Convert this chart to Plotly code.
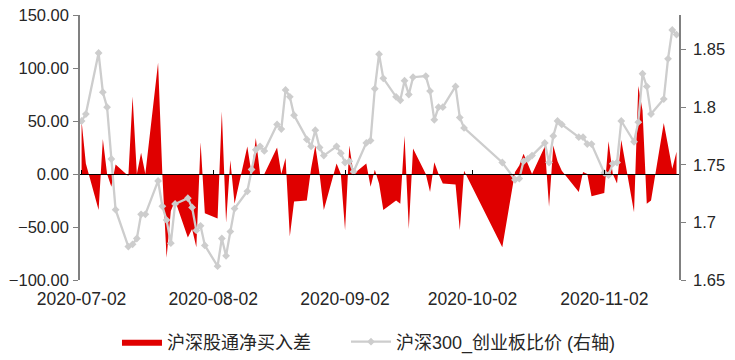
import plotly.graph_objects as go

dates_jul = ["2020-07-%02d" % d for d in [2, 3, 6, 7, 8, 9, 10, 13, 14, 15, 16, 17, 20, 21, 22, 23, 24, 27, 28, 29, 30, 31]]
dates_aug = ["2020-08-%02d" % d for d in [3, 4, 5, 6, 7, 10, 11, 12, 13, 14, 17, 18, 19, 20, 21, 24, 25, 26, 27, 28, 31]]
dates_sep = ["2020-09-%02d" % d for d in [1, 2, 3, 4, 7, 8, 9, 10, 11, 14, 15, 16, 17, 18, 21, 22, 23, 24, 25, 28, 29, 30]]
dates_oct = ["2020-10-%02d" % d for d in [9, 12, 13, 14, 15, 16, 19, 20, 21, 22, 23, 27, 28, 29, 30]]
dates_nov = ["2020-11-%02d" % d for d in [2, 3, 4, 5, 6, 9, 10, 11, 12, 13, 16, 17, 18, 19]]
dates = dates_jul + dates_aug + dates_sep + dates_oct + dates_nov

net_buy_diff = [
    50, 10, -34, 33, 0, -12, 9, -2, 73, 0, 20, 0, 105, 0, -79, -35, -25, -60, -52, -69, 30, -37,
    -42, 59, -46, 13, -28, 26, 0, 34, 0, 0, 25, 0, 15, -59, -26, -25, 5, 27, 0, -34, 10,
    0, -53, 27, 0, 10, -12, 4, -9, -34, -25, -28, 36, -52, 24, 0, -17, 11, 0, -9, -10, -53, 3,
    -69, 2, 8, 19, 10, 0, 26, -31, 27, 12, 3, -17, 2, 0, -21,
    -18, 31, 0, -9, 32, -36, 83, 60, -28, -25, 48, 27, 5, 21,
]

ratio = [
    1.788, 1.794, 1.847, 1.813, 1.800, 1.755, 1.711, 1.679, 1.681, 1.686, 1.707, 1.707, 1.736, 1.714, 1.702, 1.682, 1.716, 1.721, 1.713, 1.693, 1.697, 1.680,
    1.662, 1.686, 1.671, 1.692, 1.712, 1.727, 1.746, 1.763, 1.766, 1.762, 1.785, 1.781, 1.815, 1.809, 1.793, 1.772, 1.766, 1.780, 1.765, 1.758, 1.766,
    1.760, 1.752, 1.753, 1.744, 1.769, 1.771, 1.816, 1.846, 1.825, 1.809, 1.806, 1.823, 1.811, 1.826, 1.827, 1.814, 1.789, 1.800, 1.800, 1.818, 1.791, 1.782,
    1.752, 1.737, 1.738, 1.753, 1.755, 1.758, 1.769, 1.752, 1.775, 1.788, 1.785, 1.774, 1.774, 1.768, 1.768,
    1.743, 1.741, 1.751, 1.752, 1.788, 1.770, 1.787, 1.829, 1.818, 1.794, 1.807, 1.842, 1.867, 1.863,
]

tick_dates = ["2020-07-02", "2020-08-02", "2020-09-02", "2020-10-02", "2020-11-02"]
x_range = ["2020-07-01 15:00", "2020-11-19 14:00"]

FONT = "Liberation Sans, Arial, Noto Sans CJK SC, sans-serif"
RED = "#E00000"
GREY = "#CDCDCD"
AXIS = "#808080"
NBSP = "\u00a0"

fig = go.Figure()
fig.add_trace(go.Scatter(
    x=dates, y=net_buy_diff, name="沪深股通净买入差" + NBSP * 6,
    mode="lines", fill="tozeroy", fillcolor=RED,
    line=dict(color=RED, width=0), xaxis="x", yaxis="y",
))
fig.add_trace(go.Scatter(
    x=dates, y=ratio, name="沪深300_创业板比价 (右轴)",
    mode="lines+markers", line=dict(color=GREY, width=2.3),
    marker=dict(symbol="diamond", size=6, color=GREY),
    xaxis="x2", yaxis="y2",
))

fig.update_layout(
    width=735, height=360,
    margin=dict(l=80, r=56, t=15, b=80, autoexpand=False),
    paper_bgcolor="white", plot_bgcolor="white",
    font=dict(family=FONT, size=16, color="#262626"),
    showlegend=True,
    legend=dict(orientation="h", x=0.0584 + 2 / 599, xanchor="left", y=-0.234, yanchor="middle",
                font=dict(size=18, family=FONT, color="#262626"), itemwidth=40,
                bgcolor="rgba(0,0,0,0)"),
    xaxis=dict(type="date", range=x_range, tickvals=tick_dates, tickformat="%Y-%m-%d",
               showline=False, ticks="", showgrid=False, zeroline=False,
               ticklabelstandoff=6, tickfont=dict(size=17.5)),
    xaxis2=dict(type="date", matches="x", overlaying="x", anchor="free", position=0.4,
                tickvals=tick_dates, showticklabels=False, showline=True,
                linecolor="black", linewidth=1, ticks="inside", ticklen=4,
                tickcolor="black", tickwidth=1, showgrid=False, zeroline=False),
    yaxis=dict(range=[-100, 150], tick0=-100, dtick=50, tickformat=".2f",
               showline=True, linecolor=AXIS, linewidth=1.5, ticks="outside",
               ticklen=5, tickcolor=AXIS, showgrid=False, zeroline=False,
               ticklabelstandoff=1, ticklabeloverflow="allow",
               tickfont=dict(size=16.5)),
    yaxis2=dict(range=[1.65, 1.88], tick0=1.65, dtick=0.05, overlaying="y",
                side="right", anchor="x", showline=True, linecolor=AXIS,
                linewidth=1.5, ticks="outside", ticklen=5, tickcolor=AXIS,
                showgrid=False, zeroline=False, ticklabelstandoff=4,
                ticklabeloverflow="allow", tickfont=dict(size=16.5)),
)

# remove the default 8px page margin so the 735x360 figure fills the window exactly
fig.write_html("out.html", config={"displayModeBar": False},
               post_script="document.body.style.margin='0';")
